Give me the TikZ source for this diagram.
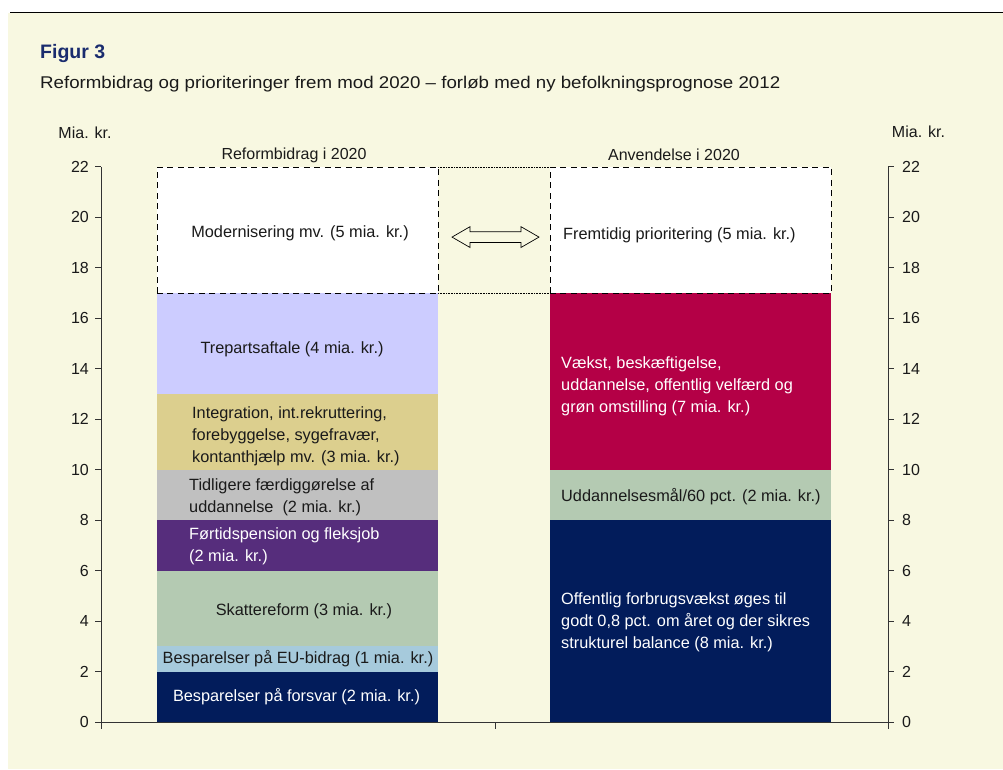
\documentclass[tikz,border=0pt]{standalone}
\usepackage{fontspec}
\setmainfont{Liberation Sans}
\usetikzlibrary{shapes.arrows}
\definecolor{cream}{HTML}{F8F8E1}
\definecolor{txt}{HTML}{1A1A1A}
\definecolor{titleblue}{HTML}{1A2C6E}
\definecolor{cLav}{HTML}{CCCCFF}
\definecolor{cTan}{HTML}{DCCF8E}
\definecolor{cGray}{HTML}{C0C0C0}
\definecolor{cPurple}{HTML}{562D7C}
\definecolor{cSage}{HTML}{B4CAB2}
\definecolor{cLblue}{HTML}{A6CADC}
\definecolor{cNavy}{HTML}{021C5B}
\definecolor{cCrimson}{HTML}{B40046}
\definecolor{axis}{HTML}{333333}
\tikzset{
  lbl/.style={inner sep=0pt, text=txt, font=\fontsize{16.3}{22}\selectfont},
  wlbl/.style={lbl, text=white},
  ticklbl/.style={inner sep=0pt, text=txt, font=\fontsize{16}{18}\selectfont},
  axisline/.style={draw=axis, line width=0.9pt},
  dashbox/.style={draw=black, fill=white, line width=0.8pt, dash pattern=on 6pt off 4.5pt},
  dotline/.style={draw=black, line width=0.5pt, dash pattern=on 0.8pt off 0.8pt},
}
\begin{document}
\begin{tikzpicture}[x=1pt,y=-1pt]
\useasboundingbox (0,0) rectangle (1003,769);
\fill[white] (0,0) rectangle (1003,769);
\fill[cream] (8,13) rectangle (1003,769);
\draw[line width=1pt] (10,12) -- (1003,12);
\node[anchor=west, inner sep=0pt, text=titleblue, font=\bfseries\fontsize{19.5}{22}\selectfont] (title) at (40,53) {Figur 3};
\node[anchor=west, lbl, font=\fontsize{17}{20}\selectfont] (subtitle) at (40,84) {\scalebox{1.1}[1]{Reformbidrag og prioriteringer frem mod 2020 – forløb med ny befolkningsprognose 2012}};
\begin{scope}[yshift=-722pt, y=25.23pt]
  % left bar segments
  \fill[cNavy]   (157,0) rectangle (438,2);
  \fill[cLblue]  (157,2) rectangle (438,3);
  \fill[cSage]   (157,3) rectangle (438,6);
  \fill[cPurple] (157,6) rectangle (438,8);
  \fill[cGray]   (157,8) rectangle (438,10);
  \fill[cTan]    (157,10) rectangle (438,13);
  \fill[cLav]    (157,13) rectangle (438,17);
  % right bar segments
  \fill[cNavy]    (550,0) rectangle (831,8);
  \fill[cSage]    (550,8) rectangle (831,10);
  \fill[cCrimson] (550,10) rectangle (831,17);
  % dashed boxes
  \path[dashbox] (157,17) rectangle (438,22);
  \path[dashbox] (550,17) rectangle (831,22);
  \coordinate (lt) at (438,22); \coordinate (rt) at (550,22);
  \coordinate (lb) at (438,17); \coordinate (rb) at (550,17);
  \path[dotline] (lt) -- (rt);
  \path[dotline] (lb) -- (rb);
  % axes
  \path[axisline] (101,0) -- (101,22);
  \path[axisline] (888,0) -- (888,22);
  \path[axisline] (101,0) -- (888,0);
  \foreach \xx in {101,495,888} { \path[axisline] (\xx,0) -- (\xx,-0.27); }
  \foreach \v in {0,2,...,22} {
    \path[axisline] (95,\v) -- (101,\v);
    \path[axisline] (888,\v) -- (894,\v);
    \node[ticklbl, anchor=east] (tl\v) at (89,\v) {\v};
    \node[ticklbl, anchor=west] (tr\v) at (902,\v) {\v};
  }
  \node[ticklbl] (unitL) at (85,23.34) {Mia. kr.};
  \node[ticklbl] (unitR) at (918.5,23.38) {Mia. kr.};
  \node[ticklbl] (headL) at (294,22.47) {Reformbidrag i 2020};
  \node[ticklbl] (headR) at (674,22.47) {Anvendelse i 2020};
  % left labels
  \node[lbl] (modern) at (300,19.38) {Modernisering mv. (5 mia. kr.)};
  \node[lbl] (trepart) at (292,14.78) {Trepartsaftale (4 mia. kr.)};
  \node[lbl, anchor=west, align=left] (integ) at (192,11.34) {Integration, int.rekruttering,\\forebyggelse, sygefravær,\\kontanthjælp mv. (3 mia. kr.)};
  \node[lbl, anchor=west, align=left] (tidl) at (189,8.90) {Tidligere færdiggørelse af\\uddannelse~ (2 mia. kr.)};
  \node[wlbl, anchor=west, align=left] (fort) at (189,6.98) {Førtidspension og fleksjob\\(2 mia. kr.)};
  \node[lbl] (skat) at (304,4.40) {Skattereform (3 mia. kr.)};
  \node[lbl] (eu) at (298,2.50) {Besparelser på EU-bidrag (1 mia. kr.)};
  \node[wlbl] (forsvar) at (296.5,0.99) {Besparelser på forsvar (2 mia. kr.)};
  % right labels
  \node[lbl, anchor=west] (fremt) at (563,19.3) {Fremtidig prioritering (5 mia. kr.)};
  \node[wlbl, anchor=west, align=left] (vaekst) at (561,13.32) {Vækst, beskæftigelse,\\uddannelse, offentlig velfærd og\\grøn omstilling (7 mia. kr.)};
  \node[lbl, anchor=west] (udd) at (561,8.92) {Uddannelsesmål/60 pct. (2 mia. kr.)};
  \node[wlbl, anchor=west, align=left] (offent) at (561,3.96) {Offentlig forbrugsvækst øges til\\godt 0,8 pct. om året og der sikres\\strukturel balance (8 mia. kr.)};
  % double arrow
  \node[double arrow, draw=black, line width=0.7pt, fill=none, inner xsep=0pt, inner ysep=5pt,
        minimum height=87pt, double arrow head extend=5pt,
        double arrow tip angle=60] (arr) at (495.5,19.22) {};
\end{scope}
\end{tikzpicture}
\end{document}
